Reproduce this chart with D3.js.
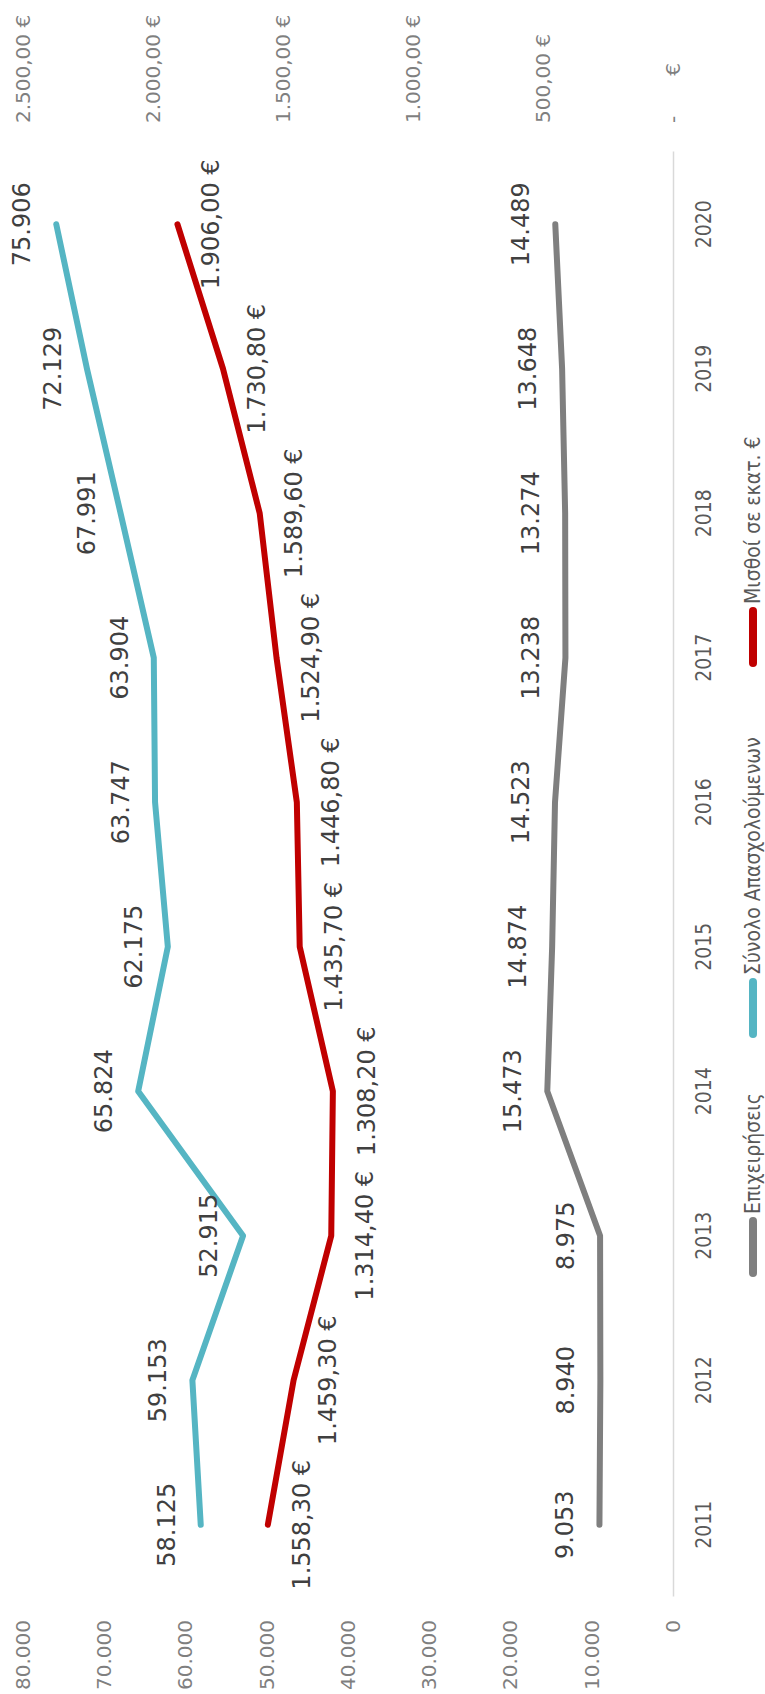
<!DOCTYPE html>
<html>
<head>
<meta charset="utf-8">
<script src="https://cdn.jsdelivr.net/npm/d3@7"></script>
<style>
body { margin: 0; background: #fff; }
svg { display: block; }
</style>
</head>
<body>
<svg id="chart" width="765" height="1694"></svg>
<script>
// values
const years = [2011, 2012, 2013, 2014, 2015, 2016, 2017, 2018, 2019, 2020]
const firms = [9053, 8940, 8975, 15473, 14874, 14523, 13238, 13274, 13648, 14489]
const employees = [58125, 59153, 52915, 65824, 62175, 63747, 63904, 67991, 72129, 75906]
const wages = [1558.3, 1459.3, 1314.4, 1308.2, 1435.7, 1446.8, 1524.9, 1589.6, 1730.8, 1906.0]
const leftTicks = [0, 10000, 20000, 30000, 40000, 50000, 60000, 70000, 80000]
const rightTicks = [0, 500, 1000, 1500, 2000, 2500]
const legendNames = ['Επιχειρήσεις', 'Σύνολο Απασχολούμενων', 'Μισθοί σε εκατ. €']

const colors = { firms: '#7f7f7f', employees: '#55b5c3', wages: '#c00000' }

// the chart is drawn in its own 1694 x 765 frame, then turned a quarter left
const W = 1694
const plot = { left: 97, right: 1542, top: 23, bottom: 673 }
const legendX = [417, 656, 1027]

const gr = d3.formatLocale({ decimal: ',', thousands: '.', grouping: [3], currency: ['', ' €'] })
const fmtInt = gr.format(',.0f')
const fmtEur = v => gr.format(',.2f')(v) + ' €'

const svg = d3.select('#chart')
const g = svg.append('g').attr('transform', `translate(0,${W}) rotate(-90)`)

const x = d3.scaleBand().domain(years).range([plot.left, plot.right])
const yL = d3.scaleLinear().domain([0, 80000]).range([plot.bottom, plot.top])
const yR = d3.scaleLinear().domain([0, 2500]).range([plot.bottom, plot.top])
const cx = d => x(d) + x.bandwidth() / 2

// left axis
const axL = g.append('g').attr('transform', 'translate(74,0)')
	.call(d3.axisLeft(yL).tickValues(leftTicks).tickSize(0).tickPadding(0).tickFormat(fmtInt))
axL.select('.domain').remove()
axL.selectAll('text').attr('font-family', 'DejaVu Sans').attr('font-size', 20).attr('fill', '#7f7f7f')

// right axis
const axR = g.append('g').attr('transform', 'translate(1571,0)')
	.call(d3.axisRight(yR).tickValues(rightTicks).tickSize(0).tickPadding(0).tickFormat(v => v === 0 ? '-' : fmtEur(v)))
axR.select('.domain').remove()
axR.selectAll('text').attr('font-family', 'DejaVu Sans').attr('font-size', 20).attr('fill', '#7f7f7f')
axR.selectAll('.tick').filter(d => d === 0).select('text')
	.append('tspan').attr('dx', 40).text('€')

// category axis
const axX = g.append('g').attr('transform', `translate(0,${plot.bottom})`)
	.call(d3.axisBottom(x).tickSize(0).tickSizeOuter(0).tickPadding(23))
axX.select('.domain').attr('stroke', '#d9d9d9').attr('stroke-width', 1.5)
axX.selectAll('text').attr('font-family', 'DejaVu Sans Condensed').attr('font-size', 21).attr('fill', '#595959')

// series
const series = [
	{ name: legendNames[0], values: firms, y: yL, color: colors.firms, fmt: fmtInt, dy: -34 },
	{ name: legendNames[1], values: employees, y: yL, color: colors.employees, fmt: fmtInt, dy: -34 },
	{ name: legendNames[2], values: wages, y: yR, color: colors.wages, fmt: fmtEur, dy: 34 }
]

series.forEach(s => {
	const line = d3.line().x((d, i) => cx(years[i])).y(d => s.y(d))
	g.append('path').datum(s.values)
		.attr('d', line)
		.attr('fill', 'none')
		.attr('stroke', s.color)
		.attr('stroke-width', 6)
		.attr('stroke-linecap', 'round')
		.attr('stroke-linejoin', 'round')
})

series.forEach(s => {
	g.append('g').selectAll('text').data(s.values)
		.enter().append('text')
		.attr('x', (d, i) => cx(years[i]))
		.attr('y', d => s.y(d) + s.dy)
		.attr('text-anchor', 'middle')
		.attr('dominant-baseline', 'central')
		.attr('font-family', 'DejaVu Sans')
		.attr('font-size', 24)
		.attr('fill', '#404040')
		.text(d => s.fmt(d))
})

// legend
const legend = g.append('g').attr('transform', 'translate(0,753)')
series.forEach((s, i) => {
	const item = legend.append('g').attr('transform', `translate(${legendX[i]},0)`)
	item.append('line')
		.attr('x1', 4).attr('x2', 56)
		.attr('stroke', s.color).attr('stroke-width', 8).attr('stroke-linecap', 'round')
	item.append('text')
		.attr('x', 63)
		.attr('dominant-baseline', 'central')
		.attr('font-family', 'DejaVu Sans Condensed')
		.attr('font-size', 21)
		.attr('fill', '#595959')
		.text(s.name)
})
</script>
</body>
</html>
